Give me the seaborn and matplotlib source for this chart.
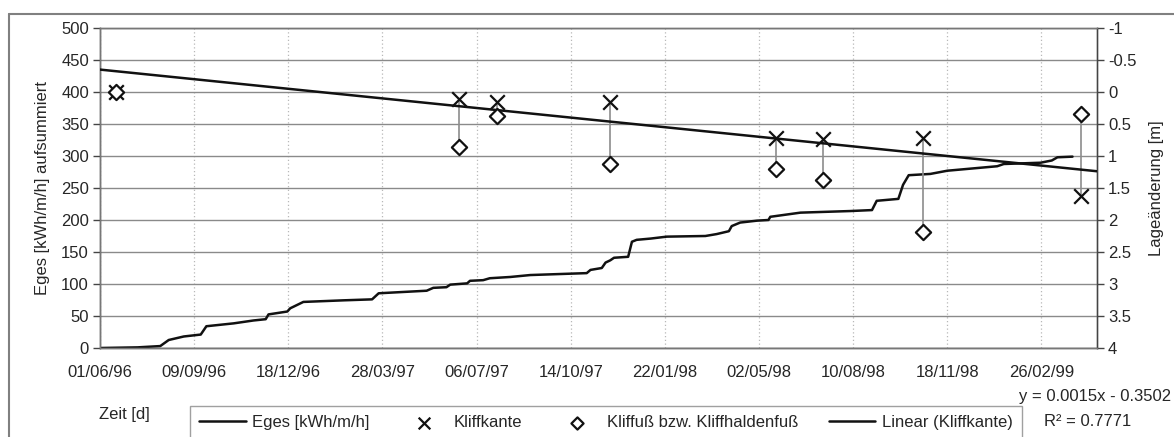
import matplotlib
matplotlib.use("Agg")
import matplotlib.pyplot as plt
import seaborn as sns
import numpy as np
import pandas as pd
from matplotlib.lines import Line2D
from matplotlib.ticker import FormatStrFormatter, MultipleLocator

# ---------------- data ----------------
# cumulative energy (days since 01/06/96)
eges_days = [0, 40, 64, 73, 89, 107, 113, 142, 163, 176, 179, 199, 202, 216, 259, 289, 296,
             347, 354, 368, 372, 390, 393, 407, 414, 436, 457, 517, 521, 533, 537, 542, 546,
             561, 565, 570, 585, 602, 643, 655, 668, 671, 680, 698, 710, 712, 744, 797, 820,
             825, 848, 853, 859, 882, 900, 953, 960, 999, 1011, 1017, 1033]
eges_vals = [0, 1, 3, 12.5, 18, 21, 34, 38.5, 43, 45, 52.5, 57, 62, 72, 74.5, 76, 85.5,
             89.5, 94, 95, 99, 101, 105, 106, 109, 111, 114, 117, 122, 125, 133.5, 137, 141,
             142.5, 166, 169, 171, 174, 175, 178, 182.5, 190.5, 196, 199, 200, 205, 211.5, 214, 215.5,
             230, 233, 255, 270, 272, 277, 284, 287.5, 289.5, 293, 298, 299]

# survey dates (days since 01/06/96) and position changes [m]
survey_days = [17, 381, 422, 542, 718, 768, 874, 1042]
kliffkante = [0.0, 0.11, 0.16, 0.16, 0.72, 0.73, 0.72, 1.63]
kliffuss = [0.0, 0.86, 0.38, 1.12, 1.20, 1.37, 2.19, 0.34]

# linear trend (Kliffkante)
trend_slope = 0.0015
trend_intercept = -0.3502

x_tick_labels = ["01/06/96", "09/09/96", "18/12/96", "28/03/97", "06/07/97", "14/10/97",
                 "22/01/98", "02/05/98", "10/08/98", "18/11/98", "26/02/99"]
x_tick_step = 100
x_max = 1059

# ---------------- style ----------------
sns.set_style("white")
plt.rcParams["font.family"] = ["Liberation Sans", "DejaVu Sans"]
FS = 12
plt.rcParams["font.size"] = FS

fig = plt.figure(figsize=(11.74, 4.37), dpi=100)
W, H = 1174, 437
ax = fig.add_axes([100 / W, 1 - 348 / H, (1097 - 100) / W, (348 - 28) / H])
ax2 = ax.twinx()

df_e = pd.DataFrame({"day": eges_days, "Eges": eges_vals})
df_s = pd.DataFrame({"day": survey_days, "kante": kliffkante, "fuss": kliffuss})

sns.lineplot(data=df_e, x="day", y="Eges", ax=ax, color="#111111", lw=1.8,
             label="Eges [kWh/m/h]", legend=False)

# connectors
ax2.vlines(df_s["day"], df_s["kante"], df_s["fuss"], colors="#8c8c8c", lw=1.2, zorder=2)
sns.scatterplot(data=df_s, x="day", y="kante", ax=ax2, marker="x", s=110,
                color="#111111", linewidth=1.6, zorder=4, label="Kliffkante", legend=False)
ax2.scatter(df_s["day"], df_s["fuss"], marker="D", s=60, facecolors="white",
            edgecolors="#111111", linewidths=1.6, zorder=4, label="Kliffuß bzw. Kliffhaldenfuß")

tx = np.array([0, x_max])
df_t = pd.DataFrame({"day": tx, "lin": trend_slope * tx + trend_intercept})
sns.lineplot(data=df_t, x="day", y="lin", ax=ax2, color="#111111", lw=1.8,
             label="Linear (Kliffkante)", legend=False, zorder=3)

# axes
ax.set_xlim(0, x_max)
ax.set_ylim(0, 500)
ax2.set_ylim(4, -1)
ax.set_xticks([i * x_tick_step for i in range(len(x_tick_labels))])
ax.set_xticklabels(x_tick_labels)
ax.yaxis.set_major_locator(MultipleLocator(50))
ax2.yaxis.set_major_locator(MultipleLocator(0.5))
ax2.yaxis.set_major_formatter(FormatStrFormatter("%g"))

ax.grid(axis="y", color="#8a8a8a", lw=1.0)
ax.grid(axis="x", color="#b8b8b8", lw=0.9, linestyle=(0, (1, 2)))
ax.set_axisbelow(True)

for a in (ax, ax2):
    for s in a.spines.values():
        s.set_color("#777777")
        s.set_linewidth(1.0)
ax.spines["left"].set_color("#444444")
ax2.spines["right"].set_color("#444444")
ax.spines["bottom"].set_color("#444444")

ax.tick_params(axis="y", direction="out", length=5, width=1, color="#444444", pad=3, labelsize=FS)
ax.tick_params(axis="x", direction="inout", length=10, width=1, color="#777777", pad=7, labelsize=FS)
ax2.tick_params(axis="y", direction="out", length=5, width=1, color="#444444", pad=3, labelsize=FS)

ax.set_xlabel("")
ax.set_ylabel("Eges [kWh/m/h] aufsummiert", fontsize=FS, labelpad=8)
ax2.set_ylabel("Lageänderung [m]", fontsize=FS, labelpad=9)

fig.text(99 / W, 1 - 415 / H, "Zeit [d]", fontsize=FS, va="center", ha="left")

# legend
h1, l1 = ax.get_legend_handles_labels()
h2, l2 = ax2.get_legend_handles_labels()
handles = h1 + h2
labels = l1 + l2
order = [labels.index(n) for n in ["Eges [kWh/m/h]", "Kliffkante",
                                    "Kliffuß bzw. Kliffhaldenfuß", "Linear (Kliffkante)"]]
leg = fig.legend([handles[i] for i in order], [labels[i] for i in order],
                 loc="upper left", bbox_to_anchor=(190 / W, 1 - 406 / H, (1022 - 190) / W, 0.0),
                 mode="expand", ncol=4, frameon=True, fancybox=False, fontsize=FS,
                 handlelength=2.8, handletextpad=0.4, borderpad=0.55, borderaxespad=0,
                 markerscale=0.8)
leg.get_frame().set_edgecolor("#888888")
leg.get_frame().set_linewidth(1.0)

fig.text(1171 / W, 1 - 396 / H, "y = 0.0015x - 0.3502", fontsize=FS, va="center", ha="right")
fig.text(1044 / W, 1 - 421 / H, "R² = 0.7771", fontsize=FS, va="center", ha="left")

# outer chart border (top/left)
fig.add_artist(Line2D([9 / W, 1], [1 - 14 / H, 1 - 14 / H], color="#808080", lw=1.5,
                      transform=fig.transFigure))
fig.add_artist(Line2D([9 / W, 9 / W], [0, 1 - 14 / H], color="#808080", lw=1.5,
                      transform=fig.transFigure))

fig.savefig("out.png", dpi=100)
